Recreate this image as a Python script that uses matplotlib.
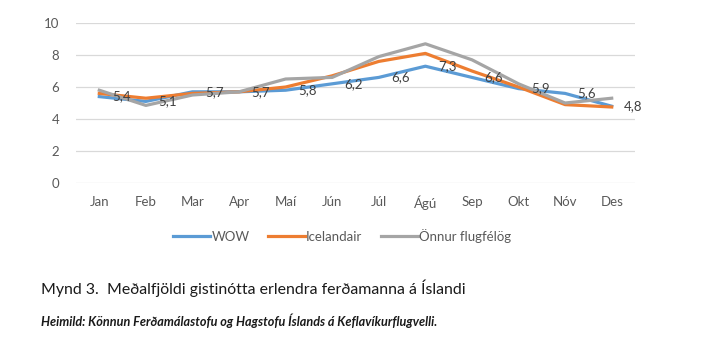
import numpy as np
import matplotlib.pyplot as plt

plt.rcParams['font.family'] = ['Lato', 'DejaVu Sans']

months = ["Jan", "Feb", "Mar", "Apr", "Maí", "Jún", "Júl", "Ágú", "Sep", "Okt", "Nóv", "Des"]
wow = [5.4, 5.1, 5.7, 5.7, 5.8, 6.2, 6.6, 7.3, 6.6, 5.9, 5.6, 4.8]
icelandair = [5.6, 5.3, 5.6, 5.7, 6.0, 6.7, 7.6, 8.1, 7.0, 6.0, 4.9, 4.75]
other = [5.8, 4.85, 5.5, 5.7, 6.5, 6.6, 7.9, 8.7, 7.7, 6.2, 5.0, 5.3]
wow_labels = ["5,4", "5,1", "5,7", "5,7", "5,8", "6,2", "6,6", "7,3", "6,6", "5,9", "5,6", "4,8"]

fig = plt.figure(figsize=(7.13, 3.54), dpi=100)
ax = fig.add_axes([0.1066, 0.483, 0.784, 0.452])

x = np.arange(len(months))
ax.plot(x, wow, color="#5B9BD5", lw=2.3, label="WOW", zorder=3)
ax.plot(x, icelandair, color="#ED7D31", lw=2.3, label="Icelandair", zorder=3)
ax.plot(x, other, color="#A5A5A5", lw=2.3, label="Önnur flugfélög", zorder=3)

for xi, yi, lab in zip(x, wow, wow_labels):
    ax.annotate(lab, (xi, yi), xytext=(9, 0), textcoords="offset points",
                ha="left", va="center", fontsize=9.5, color="#404040", zorder=4)

ax.set_xlim(-0.5, 11.5)
ax.set_ylim(0, 10)
ax.set_yticks(range(0, 11, 2))
ax.set_xticks(x)
ax.set_xticklabels(months)
ax.tick_params(length=0, labelsize=9.5, labelcolor="#595959", pad=9)
ax.tick_params(axis="y", pad=12)
ax.grid(axis="y", color="#D9D9D9", lw=0.9)
ax.set_axisbelow(True)
for s in ax.spines.values():
    s.set_visible(False)

fig.legend(loc="center", bbox_to_anchor=(0.48, 0.333), ncol=3, frameon=False,
           fontsize=9.5, handlelength=2.8, handletextpad=0.1, columnspacing=1.4,
           labelcolor="#595959")

fig.text(0.058, 0.186, "Mynd 3.  Meðalfjöldi gistinótta erlendra ferðamanna á Íslandi",
         fontsize=11.4, color="#1a1a1a", va="center")
fig.text(0.058, 0.093, "Heimild: Könnun Ferðamálastofu og Hagstofu Íslands á Keflavíkurflugvelli.",
         fontsize=9.1, style="italic", fontweight="bold", color="#1a1a1a", va="center")

fig.savefig("out.png", dpi=100)
